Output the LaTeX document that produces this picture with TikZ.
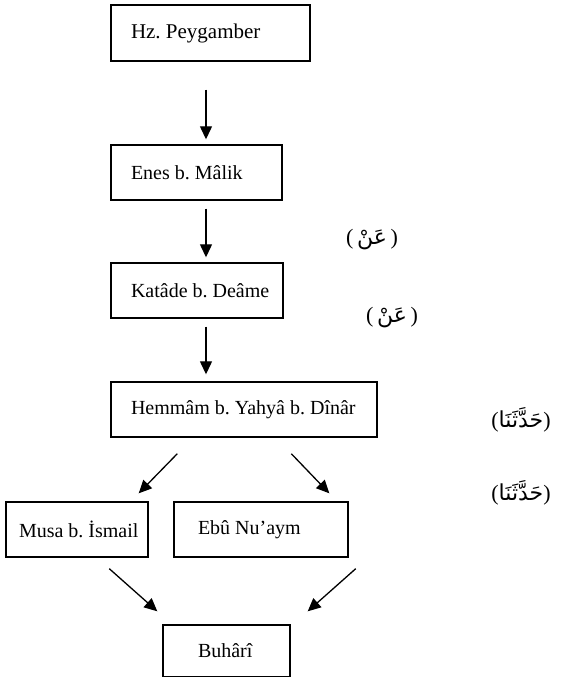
\documentclass[tikz,border=0pt]{standalone}
\usepackage{fontspec}
\setmainfont{Liberation Serif}
\newfontfamily\arabicfont[Script=Arabic]{DejaVu Sans}
\TeXXeTstate=1
\frenchspacing
\usetikzlibrary{arrows.meta,calc}
\tikzset{
  box/.style={draw, line width=1.4pt, inner ysep=0pt, font=\fontsize{20}{24}\selectfont, anchor=center},
  arr/.style={line width=1.3pt, -{Triangle[length=13pt,width=12pt]}},
  lbl/.style={font=\fontsize{22}{26}\selectfont, anchor=center}
}
\newcommand{\lefttext}[2]{\makebox[#1][l]{#2}}
\newcommand{\anlbl}{{(}\,{\arabicfont\beginR عَنْ\endR}\,{)}}
\newcommand{\hdlbl}{{(}{\arabicfont\beginR حَدَّثَنَا\endR}{)}}
\begin{document}
\begin{tikzpicture}[x=1pt,y=-1pt]
\useasboundingbox (0,0) rectangle (563,677);
\node[box, inner xsep=20pt, minimum height=56pt, font=\fontsize{21}{25}\selectfont] (hz) at (210.5,33) {\lefttext{159pt}{Hz. Peygamber}};
\node[box, inner xsep=20pt, minimum height=55pt] (enes) at (196.5,172.5) {\lefttext{131pt}{Enes b. Mâlik}};
\node[box, inner xsep=20pt, minimum height=55pt] (katade) at (197,290.5) {\lefttext{132pt}{Katâde b. Deâme}};
\node[box, inner xsep=20pt, minimum height=55pt] (hemmam) at (244,409.5) {\lefttext{226pt}{Hemmâm b. Yahyâ b. Dînâr}};
\node[box, inner xsep=13pt, minimum height=55pt] (musa) at (77,529.5) {\lefttext{116pt}{Musa b. İsmail}};
\node[box, inner xsep=24pt, minimum height=55pt] (ebu) at (261,529.5) {\lefttext{126pt}{Ebû Nu’aym}};
\node[box, inner xsep=35pt, minimum height=52pt] (buhari) at (226.5,651) {\lefttext{57pt}{Buhârî}};

\node[lbl] (an1) at (372,240) {\anlbl};
\node[lbl] (an2) at (392,318) {\anlbl};
\node[lbl] (hd1) at (521,420) {\hdlbl};
\node[lbl] (hd2) at (521,493) {\hdlbl};

\coordinate (ax) at (206,0);
\draw[arr, shorten <=28pt, shorten >=5pt] (hz.south -| ax) -- (enes.north -| ax);
\draw[arr, shorten <=8pt, shorten >=5pt] (enes.south -| ax) -- (katade.north -| ax);
\draw[arr, shorten <=8pt, shorten >=7pt] (katade.south -| ax) -- (hemmam.north -| ax);

\coordinate (d1s) at ($(hemmam.south west)+(67,16)$);
\coordinate (d1e) at ($(musa.north east)+(-10,-8)$);
\coordinate (d2s) at ($(hemmam.south west)+(181,16)$);
\coordinate (d2e) at ($(ebu.north west)+(156,-8)$);
\draw[arr] (d1s) -- (d1e);
\draw[arr] (d2s) -- (d2e);

\coordinate (d3s) at ($(musa.south west)+(104,11)$);
\coordinate (d3e) at ($(buhari.north west)+(-5,-13)$);
\coordinate (d4s) at ($(ebu.south east)+(7,11)$);
\coordinate (d4e) at ($(buhari.north east)+(17,-13)$);
\draw[arr] (d3s) -- (d3e);
\draw[arr] (d4s) -- (d4e);
\end{tikzpicture}
\end{document}
